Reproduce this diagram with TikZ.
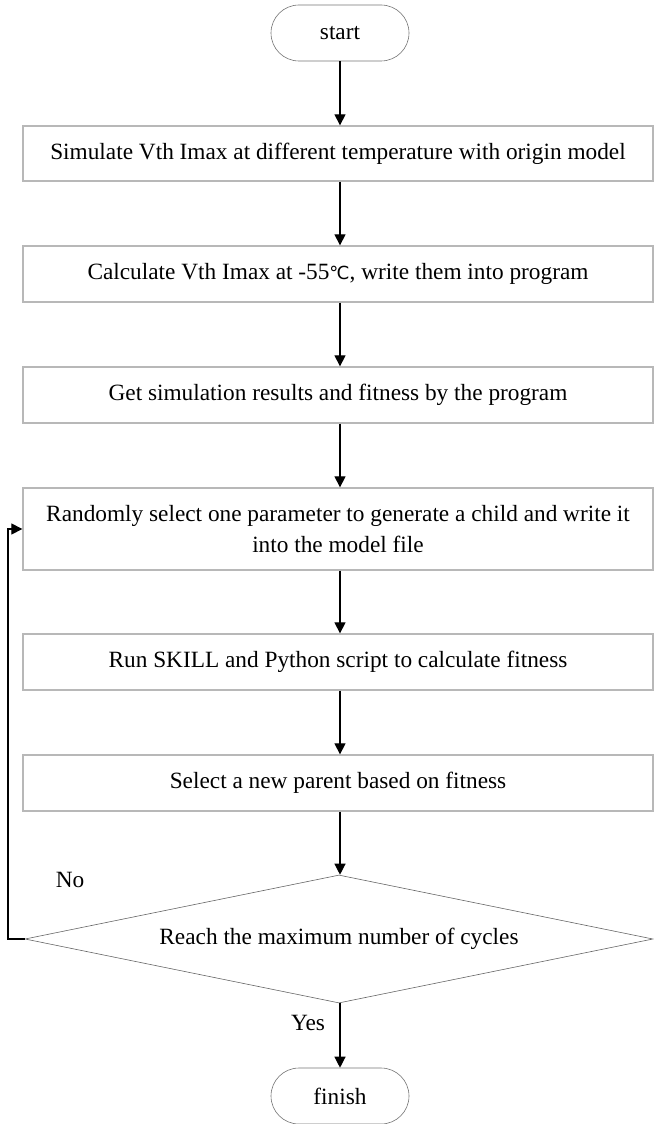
\documentclass[tikz,border=0pt]{standalone}
\usepackage{fontspec}
\setmainfont{Liberation Serif}
\newfontfamily\symfont{DejaVu Sans}
\usetikzlibrary{arrows.meta,shapes.geometric}
\begin{document}
\begin{tikzpicture}[x=1pt,y=-1pt,
  every node/.style={font=\fontsize{23.3}{31}\selectfont},
  procbox/.style={draw=black!28,line width=1.3pt,minimum width=630pt,inner sep=0pt,align=center},
  term/.style={draw=black!55,line width=0.6pt,rounded corners=28pt,minimum width=138pt,minimum height=56pt,inner sep=0pt},
  decis/.style={draw=black!60,line width=0.6pt,diamond,aspect=5.03,minimum width=628pt,minimum height=128pt,inner sep=0pt},
  arr/.style={draw=black,line width=1.2pt,-{Triangle[length=11pt,width=11pt]}},
  lab/.style={inner sep=0pt}]
\useasboundingbox (0,0) rectangle (653,1124);
\node[term] (start) at (340,33) {start};
\node[procbox,minimum height=55pt] (b1) at (338,153.5) {Simulate Vth Imax at different temperature with origin model};
\node[procbox,minimum height=56pt] (b2) at (338,274) {Calculate Vth Imax at -55{\symfont\fontsize{18}{20}\selectfont ℃}, write them into program};
\node[procbox,minimum height=56pt] (b3) at (338,395) {Get simulation results and fitness by the program};
\node[procbox,minimum height=82pt] (b4) at (338,529) {Randomly select one parameter to generate a child and write it\\into the model file};
\node[procbox,minimum height=56pt] (b5) at (338,662) {Run SKILL and Python script to calculate fitness};
\node[procbox,minimum height=56pt] (b6) at (338,783) {Select a new parent based on fitness};
\node[decis] (d) at (339,939) {Reach the maximum number of cycles};
\node[term] (finish) at (340,1096) {finish};
\coordinate (c1) at (8,939);
\coordinate (c2) at (8,529);
\draw[arr] (start.south) -- (start.south |- b1.north);
\draw[arr] (b1.south -| start.south) -- (start.south |- b2.north);
\draw[arr] (b2.south -| start.south) -- (start.south |- b3.north);
\draw[arr] (b3.south -| start.south) -- (start.south |- b4.north);
\draw[arr] (b4.south -| start.south) -- (start.south |- b5.north);
\draw[arr] (b5.south -| start.south) -- (start.south |- b6.north);
\draw[arr] (b6.south -| start.south) -- (d.north -| start.south);
\draw[arr] (d.south -| start.south) -- (finish.north);
\draw[arr] (d.west) -- (c1) -- (c2) -- (b4.west);
\node[lab] (no) at (70,880) {No};
\node[lab] (yes) at (308,1023) {Yes};
\end{tikzpicture}
\end{document}
